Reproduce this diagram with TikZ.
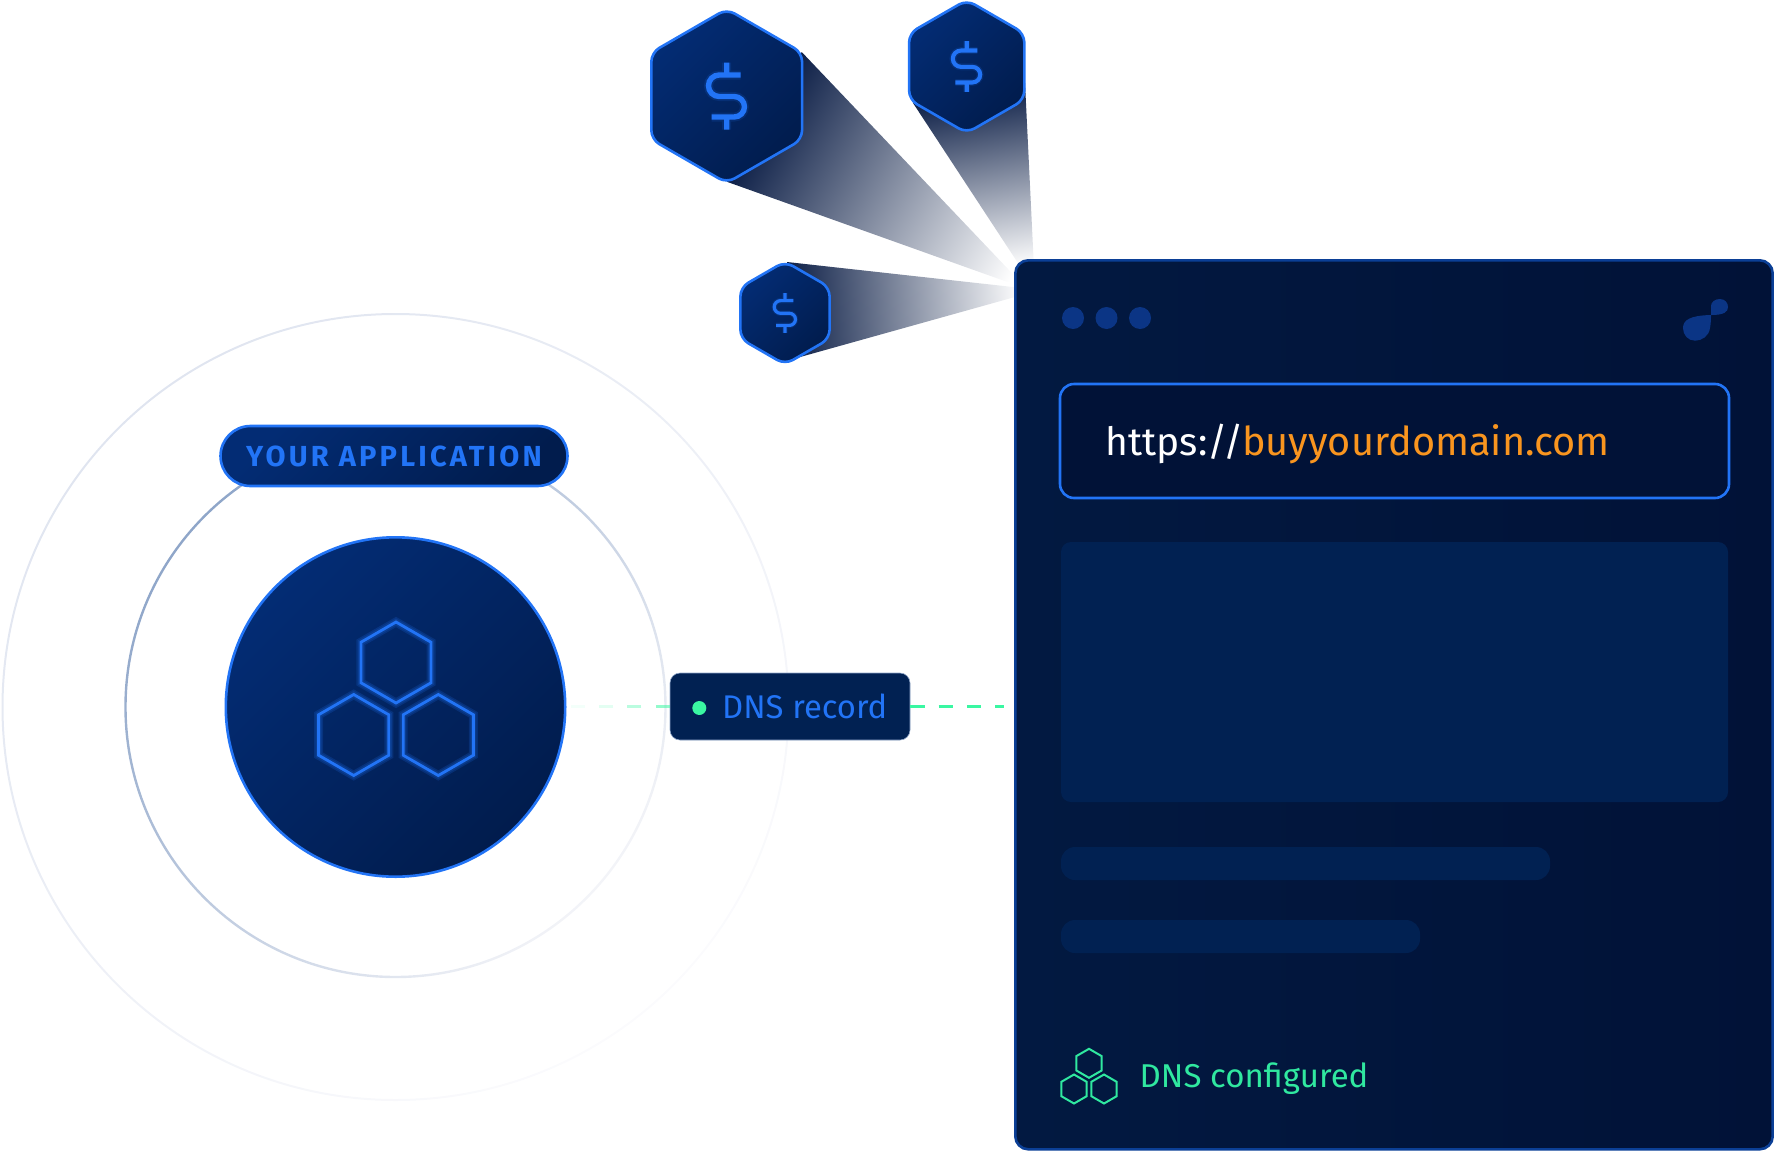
\documentclass[tikz,border=0pt]{standalone}
\usepackage{fontspec}
\usepackage{xcolor}
\setmainfont{Fira Sans}
\usetikzlibrary{
    calc,
    positioning
}
\definecolor{neonblue}{HTML}{2274F6}
\definecolor{deeplight}{HTML}{032C74}
\definecolor{deepdark}{HTML}{011C4D}
\definecolor{panelleft}{HTML}{021941}
\definecolor{panelright}{HTML}{011237}
\definecolor{panelline}{HTML}{0B3F96}
\definecolor{blockblue}{HTML}{012152}
\definecolor{dotblue}{HTML}{0B3585}
\definecolor{mint}{HTML}{3AF7A2}
\definecolor{softmint}{HTML}{30E8A0}
\definecolor{urlorange}{HTML}{F9951F}
\definecolor{raydark}{HTML}{0D1F47}
\definecolor{ringdark}{HTML}{8FA6C9}
\definecolor{ringfade}{HTML}{F3F4F8}
\definecolor{outerdark}{HTML}{E0E5F0}
\definecolor{outerfade}{HTML}{FBFBFD}
\newcommand{\hexpath}[1]{(90:#1) -- (30:#1) -- (-30:#1) -- (-90:#1) -- (-150:#1) -- (150:#1) -- cycle}
\newcommand{\fsize}[1]{\fontsize{#1}{#1}\selectfont}
\tikzset{
    deepfill/.style={top color=deeplight, bottom color=deepdark, shading angle=45},
    neonline/.style={draw=neonblue, line width=2.6pt},
    glowline/.style={draw=neonblue, line width=#1, opacity=0.18},
    block/.style={fill=blockblue, rounded corners=10pt},
    dashpiece/.style={line width=3pt, draw=mint},
    label/.style={inner sep=0pt, anchor=base west}
}

\begin{document}
\begin{tikzpicture}[x=1pt, y=-1pt]
    \useasboundingbox (0, 0) rectangle (1774, 1151);

    % rings
    \shade[even odd rule, top color=outerdark, bottom color=outerfade, shading angle=40]
    (395.5, 707) circle (394) (395.5, 707) circle (392);
    \shade[even odd rule, top color=ringdark, bottom color=ringfade, shading angle=50]
    (395.5, 707) circle (271.2) (395.5, 707) circle (268.8);

    % rays
    \foreach \cx/\cy/\ax/\ay/\bx/\by/\tx/\ty/\ang/\len in {
        726.7/96/801.7/52/726.7/181.7/1027/289/-30/295,
        966.7/66.5/913/103/1025/83/1035/289/-80/180,
        785/313/787/262/793/359/1040/290/3.5/232} {
        \begin{scope}
            \clip (\cx, \cy) -- (\ax, \ay) -- (\tx, \ty) -- (\bx, \by) -- cycle;
            \shade[transform canvas={rotate around={\ang:(\ax, \ay)}}, left color=raydark, right color=white]
            (\ax, \ay-500) rectangle (\ax+\len, \ay+500);
        \end{scope}
    };

    % coins
    \foreach \cx/\cy/\r/\s in {726.7/96/87/1, 966.7/66.5/66.5/0.76, 785/313/51.5/0.59} {
        \begin{scope}[shift={(\cx, \cy)}]
            \path[deepfill, neonline, rounded corners=9pt, draw] \hexpath{\r};
            \foreach \w/\o in {9/0.14, 5.4/1} {
                \draw[draw=neonblue, line width=\s*\w pt, opacity=\o]
                (14*\s, -21*\s) -- (-7.5*\s, -21*\s)
                arc (270:90:10.75*\s) -- (7.5*\s, 0.5*\s)
                arc (-90:90:10.25*\s) -- (-15*\s, 21*\s)
                (0, -33.5*\s) -- (0, -21*\s)
                (0, 21*\s) -- (0, 33.5*\s);
            };
        \end{scope}
    };

    % application
    \draw[deepfill, neonline] (395.5, 707) circle (169.7);
    \foreach \cx/\cy in {396/662.5, 353.7/735, 438.3/735} {
        \begin{scope}[shift={(\cx, \cy)}]
            \draw[glowline=9pt] \hexpath{40.5};
            \draw[glowline=6pt] \hexpath{40.5};
            \draw[draw=neonblue, line width=2.8pt] \hexpath{40.5};
        \end{scope}
    };
    \node (pill) [deepfill, neonline, rounded corners=30pt, minimum width=347pt, minimum height=60pt, inner sep=0pt,
        text=neonblue, font=\fsize{29}\bfseries\addfontfeature{LetterSpace=11}] at (394, 456) {YOUR APPLICATION};

    % panel
    \draw[left color=panelleft, right color=panelright, draw=panelline, line width=2.6pt, rounded corners=13pt]
    (1015.3, 260.3) rectangle (1772.7, 1149.3);
    \foreach \x in {1073, 1106.5, 1140} {
        \fill[dotblue] (\x, 318) circle (11);
    };
    \fill[dotblue]
    (1683, 328) .. controls (1683, 320) and (1690, 315.5) .. (1711, 315)
    .. controls (1711, 322) and (1710.5, 325) .. (1710, 328)
    .. controls (1709, 336) and (1702, 340.7) .. (1695, 340.7)
    .. controls (1688, 340.7) and (1683, 335) .. (1683, 328) -- cycle
    (1711, 315) -- (1711, 306)
    .. controls (1711, 302) and (1715, 299) .. (1720, 299)
    .. controls (1725, 299) and (1728, 303) .. (1728, 307)
    .. controls (1728, 312) and (1724, 315) .. (1711, 315) -- cycle;

    \draw[top color=panelright, bottom color=panelright, neonline, rounded corners=14pt]
    (1060, 384) rectangle (1729, 498);
    \node (scheme) [label, text=white, font=\fsize{39}] at (1105.5, 455) {https://};
    \node (domain) [label, text=urlorange, font=\fsize{39.7}] at (1242, 455) {buyyourdomain.com};

    \fill[block] (1061, 542) rectangle (1728, 802);
    \fill[block, rounded corners=14pt] (1061, 847) rectangle (1550, 880);
    \fill[block, rounded corners=14pt] (1061, 920) rectangle (1420, 953);

    \foreach \cx/\cy in {1089/1063.3, 1074/1089, 1104/1089} {
        \begin{scope}[shift={(\cx, \cy)}]
            \draw[draw=softmint, line width=2pt] \hexpath{14.5};
        \end{scope}
    };
    \node (configured) [label, text=softmint, font=\fsize{33}] at (1139.5, 1087) {DNS configured};

    % record
    \node (record) [fill=blockblue, draw=ringdark, line width=0.6pt, rounded corners=10pt,
        minimum width=240pt, minimum height=67pt, inner sep=0pt] at (790, 706.5) {};
    \node (light) [circle, fill=mint, minimum size=14pt, inner sep=0pt] at (699.3, 708) {};
    \node (recordtext) [label, text=neonblue, font=\fsize{32.8}] at (722, 718) {DNS record};
    \coordinate (panelgap) at (1004, 706.5);

    \draw[dashpiece, dash pattern=on 14.5pt off 13.8pt, dash phase=0pt] (record.east) -- (panelgap);
    \foreach \d/\o in {0/0.55, 28.3/0.35, 56.6/0.14, 85/0.06} {
        \draw[dashpiece, opacity=\o] ($(record.west)+(-\d, 0)$) -- ($(record.west)+(-\d-14, 0)$);
    };
\end{tikzpicture}
\end{document}
